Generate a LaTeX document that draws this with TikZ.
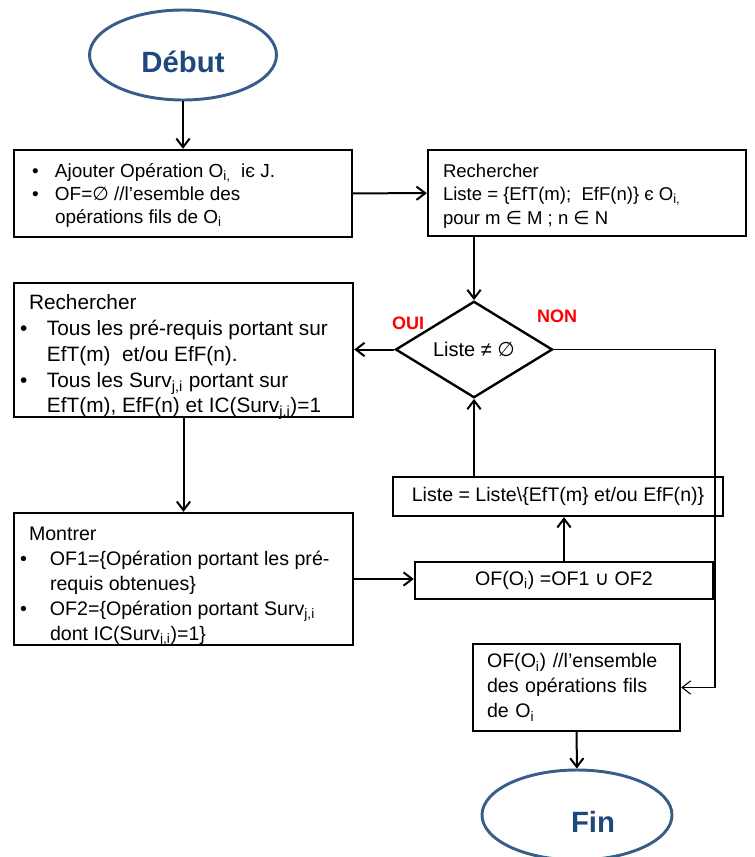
\documentclass[tikz,border=0pt]{standalone}
\usepackage{fontspec}
\setmainfont{Liberation Sans}
\newfontfamily\symbfont{DejaVu Sans}
\usetikzlibrary{shapes.geometric}
\usetikzlibrary{arrows.meta}
\definecolor{terminal blue}{RGB}{56,93,138}
\definecolor{terminal text}{RGB}{31,73,125}
\newcommand{\symb}[1]{{\symbfont #1}}
\newcommand{\bitem}[2]{\par\hangindent=#1\hangafter=1\noindent\makebox[#1][l]{\textbullet}#2\par}
\newcommand{\lowered}[1]{\raisebox{-13pt}[0pt][0pt]{#1}}
\newcommand{\textblock}[3]{\raisebox{#1}[\height][\depth]{\parbox{#2}{\raggedright #3}}}
\tikzstyle{terminal}=[ellipse, draw=terminal blue, line width=2.2pt, minimum width=140.25pt, minimum height=67.5pt, inner sep=0pt, text=terminal text, font=\fontsize{22}{26}\selectfont\bfseries]
\tikzstyle{process}=[rectangle, draw, line width=1.8pt, inner sep=0pt, align=left, font=\fontsize{14.7}{18.75}\selectfont]
\tikzstyle{decision}=[diamond, draw, line width=1.8pt, inner sep=0pt, minimum width=117.75pt, minimum height=48.75pt, font=\fontsize{15}{18}\selectfont]
\tikzstyle{answer}=[text=red, font=\fontsize{13.5}{16}\selectfont\bfseries]
\tikzstyle{flow}=[line width=1.5pt, -{Straight Barb[length=6.5pt,width=10pt]}]
\tikzstyle{thin flow}=[line width=0.8pt, -{Straight Barb[length=6.5pt,width=10pt]}]

\begin{document}
\begin{tikzpicture}[x=0.75pt, y=-0.75pt]
      \useasboundingbox (0,0) rectangle (755,857);

      \node[terminal] (debut) at (183,55) {\lowered{Début}};

      \node[process, minimum width=253.5pt, minimum height=65.25pt,
            font=\fontsize{14.2}{17.25}\selectfont] (ajout) at (183,193.5)
        {\textblock{-1.75pt}{226.5pt}{\bitem{17.25pt}{Ajouter Opération O\textsubscript{i,}\ \ iє J.}
         \bitem{17.25pt}{OF=\symb{∅} //l’esemble des\newline opérations fils de O\textsubscript{i}}}};

      \node[process, minimum width=238.5pt, minimum height=64.5pt,
            font=\fontsize{13.9}{17.6}\selectfont] (recherche) at (587,193)
        {\textblock{-2.25pt}{216pt}{Rechercher\\ Liste = \{EfT(m);\ \ EfF(n)\} є O\textsubscript{i,}\\ pour m \symb{∈} M ; n \symb{∈} N}};

      \node[decision] (test) at (474,349.5) {Liste ≠ \symb{∅}};
      \node[answer] (oui) at (408,323) {OUI};
      \node[answer] (non) at (557,316) {NON};

      \node[process, minimum width=254.25pt, minimum height=100.5pt,
            font=\fontsize{15.6}{19.3}\selectfont] (prerequis) at (183.5,350)
        {\textblock{-5.5pt}{245.25pt}{\hspace*{6.75pt}Rechercher
         \bitem{20.25pt}{Tous les pré-requis portant sur\newline EfT(m)\ \ et/ou EfF(n).}
         \bitem{20.25pt}{Tous les Surv\textsubscript{j,i} portant sur\newline EfT(m), EfF(n) et IC(Surv\textsubscript{j,i})=1}}};

      \node[process, minimum width=254.25pt, minimum height=99pt] (montrer) at (183.5,579)
        {\textblock{-6pt}{245.25pt}{\hspace*{6.75pt}Montrer
         \bitem{22.5pt}{OF1=\{Opération portant les pré-\newline requis obtenues\}}
         \bitem{22.5pt}{OF2=\{Opération portant Surv\textsubscript{j,i}\newline dont IC(Surv\textsubscript{j,i})=1\}}}};

      \node[process, minimum width=247.5pt, minimum height=29.25pt, align=center] (retrait) at (558,496.5)
        {Liste = Liste\textbackslash\{EfT(m\} et/ou EfF(n)\}};
      \node[process, minimum width=223.5pt, minimum height=27.75pt, align=center] (union) at (564,580.5)
        {OF(O\textsubscript{i}) =OF1 \symb{∪} OF2};

      \node[process, minimum width=155.25pt, minimum height=65.25pt, text width=134.25pt] (resultat) at (576.5,687.5)
        {OF(O\textsubscript{i}) //l’ensemble\\ des opérations fils\\ de O\textsubscript{i}};

      \node[terminal, minimum width=142.5pt] (fin) at (577,815) {\hspace*{24pt}\lowered{Fin}};

      \coordinate (non_turn) at (715,349.5);

      \draw[flow] (debut) -- (ajout);
      \draw[flow] (ajout) -- (recherche);
      \draw[flow] (recherche.south -| test.north) -- (test.north);
      \draw[flow] (test.west) -- (test.west -| prerequis.east);
      \draw[flow] (prerequis) -- (montrer);
      \draw[flow] (montrer.east) -- (montrer.east -| union.west);
      \draw[flow] (union.north) -- (union.north |- retrait.south);
      \draw[flow] (retrait.north -| test.south) -- (test.south);
      \draw[thin flow] (test.east) -- (non_turn) |- (resultat.east);
      \draw[flow] (resultat) -- (fin);
    \end{tikzpicture}
\end{document}
